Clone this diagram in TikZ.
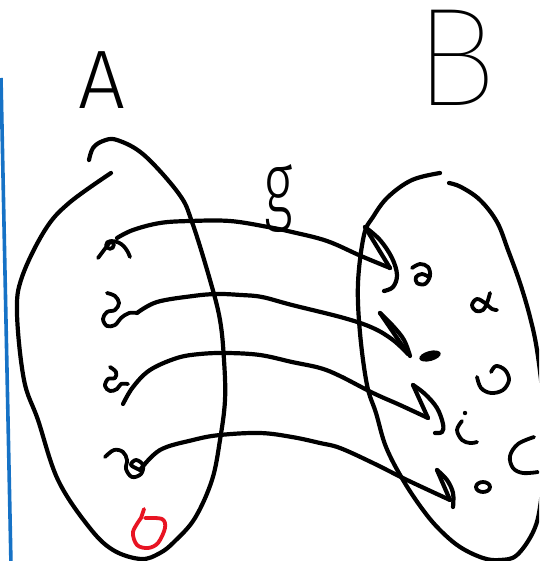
\documentclass[tikz,border=0pt]{standalone}
\usepackage{fontspec}
\newfontfamily\hand{Fira Sans}[UprightFont=* Light]
\newfontfamily\handthin{Fira Sans}[UprightFont=* Thin]
\definecolor{penblue}{RGB}{22,114,198}
\definecolor{penred}{RGB}{232,20,35}
\begin{document}
\begin{tikzpicture}[x=1pt,y=-1pt,
  ink/.style={line width=4.2pt,line cap=round,line join=round,black},
  dotink/.style={line width=3.8pt,line cap=round,line join=round,black},
  handtext/.style={inner sep=0pt,outer sep=0pt},
]
\useasboundingbox (0,0) rectangle (539,561);
\fill[white] (0,0) rectangle (539,561);
\begin{scope}
\clip (0,0) rectangle (539,561);

% blue margin line
\draw[line width=3.6pt,penblue] (1,78) -- (11,565);

% labels
\node[handtext,font=\hand\fontsize{83}{83}\selectfont] (lA) at (102,80) {A};
\node[handtext,font=\handthin\fontsize{140}{140}\selectfont] (lB) at (456,58) {B};
\node[handtext,font=\hand\fontsize{88}{88}\selectfont] (lg) at (279,199) {\scalebox{0.64}[1]{g}};

% set A
\draw[ink] plot[smooth,tension=0.6] coordinates {(111,173) (69,203) (45,230) (22,277) (17,313) (24,380) (38,420) (58,480) (89,527) (113,550) (141,559) (160,553) (175,541) (195,518) (212,480) (220,440) (225,400) (224,360) (220,320) (210,280) (192,222) (179,194) (144,155) (117,140) (103,141) (93,148) (89,160)};

% set B
\draw[ink] plot[smooth,tension=0.6] coordinates {(449,183) (461,187) (480,200) (497,222) (508,250) (520,283) (530,317) (537,350) (543,400) (545,450) (541,500) (534,530) (517,555) (500,560) (483,558) (460,547) (440,530) (423,510) (403,480) (386,447) (376,413) (367,385) (360,333) (358,283) (364,235) (373,217) (388,197) (412,180) (440,173)};

% start points in A
\coordinate (a1) at (117,238);
\coordinate (a2) at (137,313);
\coordinate (a3) at (123,404);
\coordinate (a4) at (140,470);
% tips in B
\coordinate (t1) at (390,268);
\coordinate (t2) at (408,354);
\coordinate (t3) at (428,418);
\coordinate (t4) at (450,500);

% points of A
\draw[dotink] (98,258) -- (110,242);
\draw[dotink] (110,245) circle (3.8);
\draw[dotink] (111,241) .. controls (122,241) and (127,249) .. (130,257);
\draw[dotink] plot[smooth,tension=0.6] coordinates {(107,293) (115,296) (119,303) (115,310) (107,312) (103,319) (107,326) (115,325) (121,318) (129,313) (a2)};
\draw[dotink] plot[smooth,tension=0.6] coordinates {(110,367) (116,372) (115,378) (108,379) (105,386) (110,391) (117,389) (121,384) (128,384)};
\draw[dotink] plot[smooth,tension=0.6] coordinates {(105,457) (114,450) (123,452) (127,460) (126,469) (132,477) (141,474) (143,465) (136,460) (131,465) (a4)};
\draw[line width=3.8pt,line cap=round,line join=round,penred] (144,509) -- (141,518);
\draw[line width=3.8pt,line cap=round,line join=round,penred] plot[smooth,tension=0.55] coordinates {(141,518) (133,532) (137,545) (148,548) (158,543) (165,528) (162,519) (145,518)};

% points of B
\draw[dotink] plot[smooth,tension=0.6] coordinates {(412,268) (420,264) (428,267) (430,276) (425,284) (417,283) (416,277) (422,274) (429,277)};
\draw[dotink] plot[smooth,tension=0.6] coordinates {(490,293) (487,303) (483,310) (476,311) (472,305) (477,299) (485,303) (492,309) (497,310)};
\fill[rotate around={15:(430,356)}] (430,356) ellipse (11 and 5);
\draw[dotink] plot[smooth,tension=0.6] coordinates {(477,377) (481,388) (491,393) (503,390) (509,380) (505,370) (496,366) (491,372)};
\draw[dotink] plot[smooth,tension=0.6] coordinates {(462,421) (457,430) (462,440) (470,443) (477,442)};
\fill (465,413) circle (2.2);
\draw[dotink] plot[smooth,tension=0.6] coordinates {(534,437) (518,444) (510,456) (513,468) (523,473) (538,472)};
\draw[dotink] (483,487) ellipse (7 and 5);

% connectors g
\draw[ink] plot[smooth,tension=0.6] coordinates {(a1) (133,230) (160,223) (190,221) (230,221) (268,227) (292,232) (327,241) (361,256) (t1)};
\draw[ink] plot[smooth,tension=0.6] coordinates {(a2) (157,302) (193,296) (217,294) (241,295) (262,297) (292,305) (344,318) (373,328) (393,340) (t2)};
\draw[ink] plot[smooth,tension=0.6] coordinates {(a3) (133,387) (150,370) (177,358) (200,354) (227,353) (260,355) (292,362) (320,368) (340,376) (373,393) (400,405) (t3)};
\draw[ink] plot[smooth,tension=0.6] coordinates {(a4) (160,450) (193,440) (220,435) (260,433) (292,437) (320,443) (340,448) (373,463) (407,480) (t4)};

% hand-drawn heads
\draw[ink] (t1) -- (365,227);
\draw[ink] plot[smooth,tension=0.6] coordinates {(365,227) (380,240) (392,258) (397,275) (393,287) (384,291)};
\draw[ink] (t2) -- (380,313);
\draw[ink] plot[smooth,tension=0.6] coordinates {(380,313) (393,326) (404,340) (410,356)};
\draw[ink] (t3) -- (413,385);
\draw[ink] plot[smooth,tension=0.6] coordinates {(413,385) (425,394) (437,408) (443,424) (442,432) (435,433)};
\draw[ink] (t4) -- (437,470);
\draw[ink] plot[smooth,tension=0.6] coordinates {(437,470) (447,480) (453,493) (453,507)};
\end{scope}
\end{tikzpicture}
\end{document}
